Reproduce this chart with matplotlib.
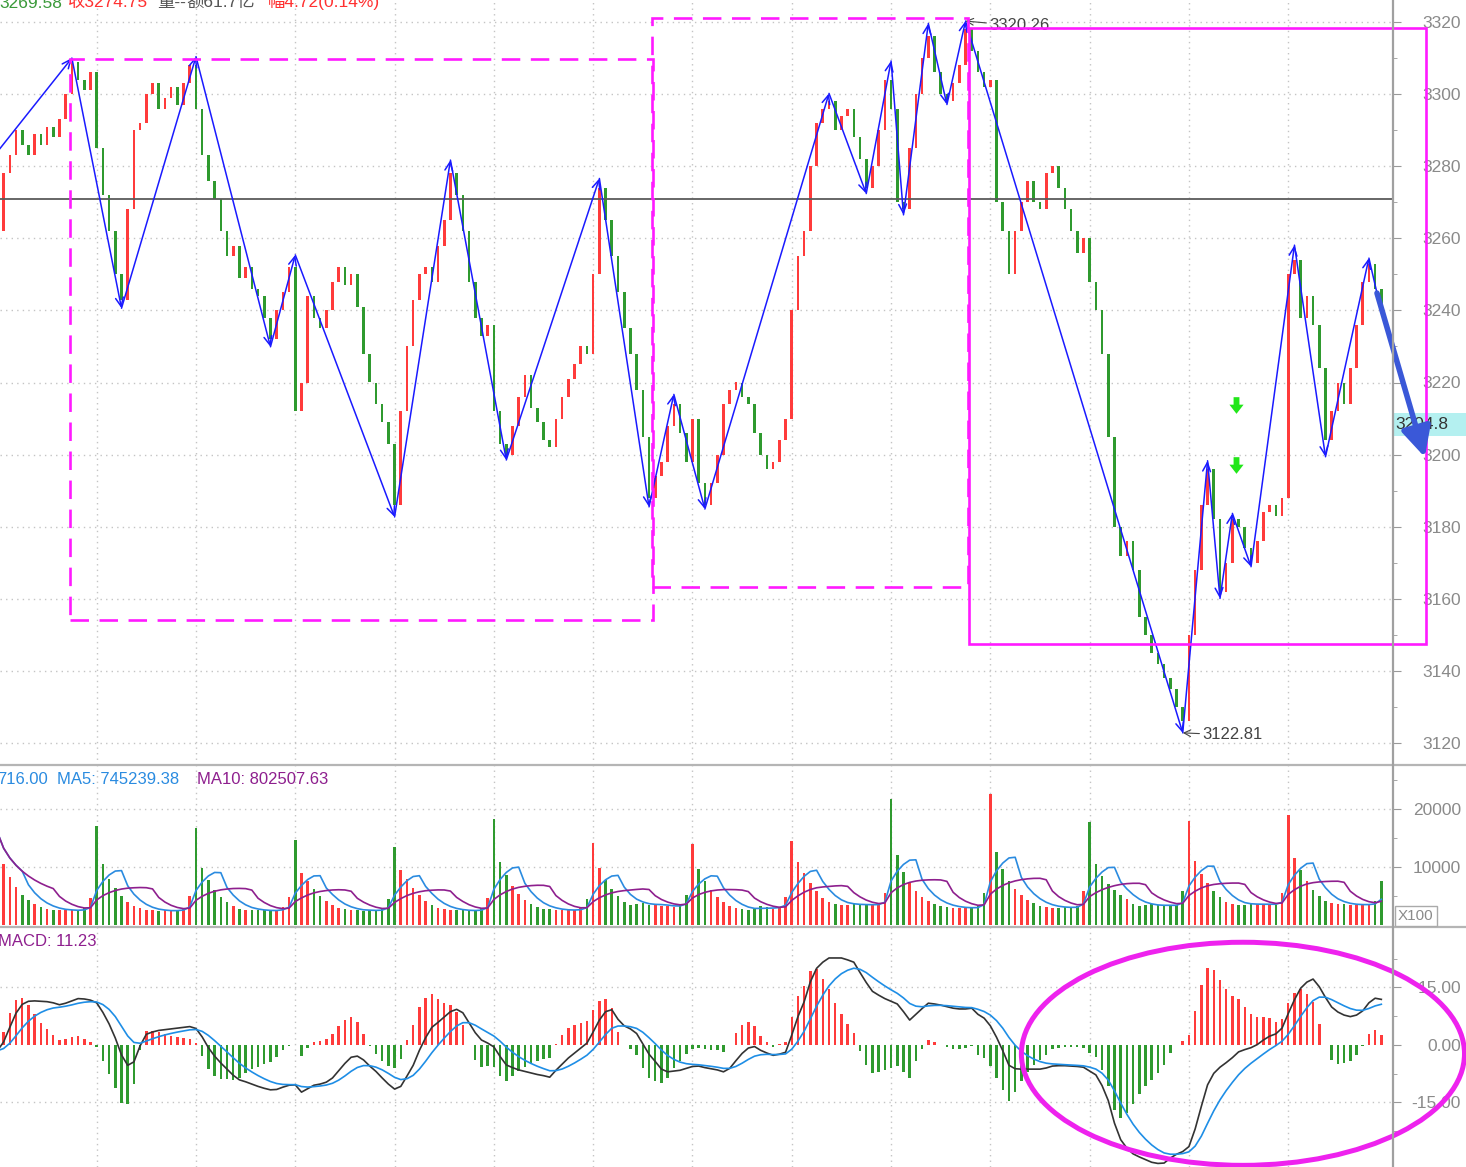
import numpy as np
import pandas as pd
import matplotlib
matplotlib.use('Agg')
import matplotlib.pyplot as plt
from matplotlib.patches import Rectangle, Ellipse
from matplotlib.path import Path
from matplotlib.lines import Line2D
import matplotlib.transforms as mtransforms

# ---------------- dados (16 barras por dia, 14 dias) ----------------
open_first = 3250
close_d0 = [3262, 3278, 3283, 3290, 3286, 3283, 3289, 3286, 3291, 3288, 3293, 3300, 3309, 3304, 3301, 3306]
close_d1 = [3285, 3272, 3262, 3250, 3243, 3268, 3290, 3292, 3300, 3303, 3296, 3299, 3302, 3297, 3303, 3308]
close_d2 = [3296, 3283, 3276, 3271, 3262, 3255, 3258, 3249, 3252, 3246, 3244, 3238, 3232, 3240, 3245, 3252]
close_d3 = [3212, 3220, 3244, 3238, 3235, 3240, 3248, 3252, 3247, 3250, 3241, 3228, 3220, 3214, 3209, 3203]
close_d4 = [3186, 3212, 3230, 3243, 3250, 3252, 3248, 3258, 3265, 3278, 3272, 3262, 3248, 3238, 3233, 3236]
close_d5 = [3212, 3203, 3200, 3208, 3216, 3222, 3213, 3209, 3204, 3202, 3210, 3216, 3221, 3225, 3230, 3228]
close_d6 = [3250, 3274, 3265, 3255, 3245, 3235, 3228, 3218, 3205, 3188, 3194, 3198, 3208, 3214, 3206, 3198]
close_d7 = [3210, 3192, 3186, 3192, 3200, 3214, 3218, 3220, 3216, 3214, 3206, 3200, 3196, 3198, 3204, 3210]
close_d8 = [3240, 3255, 3262, 3280, 3292, 3296, 3298, 3290, 3294, 3296, 3288, 3282, 3274, 3280, 3290, 3304]
close_d9 = [3296, 3270, 3268, 3285, 3300, 3310, 3316, 3306, 3300, 3298, 3303, 3308, 3318, 3312, 3306, 3302]
close_d10 = [3304, 3270, 3262, 3250, 3262, 3270, 3276, 3270, 3268, 3278, 3280, 3274, 3268, 3262, 3256, 3260]
close_d11 = [3248, 3240, 3228, 3205, 3180, 3172, 3176, 3168, 3155, 3150, 3145, 3142, 3138, 3135, 3130, 3126]
close_d12 = [3150, 3168, 3186, 3196, 3182, 3162, 3170, 3182, 3180, 3174, 3170, 3176, 3184, 3186, 3183, 3188]
close_d13 = [3250, 3254, 3238, 3244, 3236, 3224, 3204, 3212, 3220, 3214, 3224, 3236, 3248, 3253, 3246, 3240]

vol_d0 = [16000, 10500, 8200, 6500, 5200, 4300, 3600, 3100, 2800, 2600, 2500, 2500, 2600, 2500, 2900, 4600]
vol_d1 = [17100, 10500, 8000, 6300, 5000, 4000, 3300, 2900, 2600, 2500, 2400, 2500, 2400, 2600, 3000, 5000]
vol_d2 = [16700, 9800, 7800, 6000, 4800, 3900, 3300, 2800, 2600, 2500, 2600, 2500, 2400, 2500, 3100, 4800]
vol_d3 = [14700, 9000, 7600, 6200, 5000, 4100, 3400, 2900, 2700, 2600, 2500, 2400, 2600, 2500, 2800, 4500]
vol_d4 = [13400, 9500, 8000, 6400, 5200, 4200, 3500, 3000, 2700, 2600, 2500, 2500, 2400, 2500, 2900, 4700]
vol_d5 = [18300, 10800, 8600, 6800, 5400, 4300, 3600, 3100, 2800, 2700, 2600, 2500, 2500, 2600, 3000, 4400]
vol_d6 = [14100, 9800, 7700, 6200, 5000, 4000, 3500, 3600, 3800, 3500, 3400, 3300, 3200, 3100, 3400, 5200]
vol_d7 = [14000, 9600, 7600, 6000, 4900, 4000, 3300, 2900, 2700, 2600, 2800, 3300, 3100, 2800, 3000, 4800]
vol_d8 = [14400, 10800, 9000, 7200, 5800, 4700, 4000, 3700, 3500, 3500, 3600, 3500, 3500, 3400, 3600, 5600]
vol_d9 = [21800, 12000, 9200, 7300, 5900, 4900, 4100, 3600, 3300, 3100, 3000, 2900, 2900, 3000, 3200, 5600]
vol_d10 = [22500, 12500, 9600, 7600, 6200, 5100, 4300, 3800, 3300, 3100, 3000, 3000, 3100, 3000, 3200, 5800]
vol_d11 = [17700, 10500, 8500, 7000, 6000, 5200, 4400, 3600, 3200, 3400, 3600, 3500, 3300, 3200, 3400, 5800]
vol_d12 = [17900, 11000, 8800, 7200, 5800, 4800, 4000, 3600, 3400, 3500, 3800, 3700, 3500, 3400, 3500, 5500]
vol_d13 = [18900, 11600, 9400, 7500, 6000, 5000, 4200, 3800, 3600, 3600, 3500, 3400, 3500, 3600, 4200, 7500]

dif_d0 = [-1.5, 0.8, 4.6, 8.3, 10.6, 11.4, 11.5, 11.4, 11.3, 11.0, 10.5, 10.9, 11.5, 12.1, 12.0, 11.7]
dif_d1 = [11.0, 8.5, 5.5, 1.8, -2.6, -5.3, -4.4, -0.2, 2.8, 3.4, 3.8, 4.0, 4.2, 4.4, 4.6, 4.8]
dif_d2 = [4.3, 2.1, -0.7, -2.9, -4.7, -6.3, -7.9, -9.1, -9.6, -10.2, -10.8, -11.3, -11.7, -11.6, -11.0, -10.5]
dif_d3 = [-10.4, -12.3, -11.4, -10.5, -10.2, -9.7, -8.6, -6.7, -4.8, -3.2, -2.9, -3.9, -5.5, -6.9, -8.6, -10.2]
dif_d4 = [-11.5, -10.8, -8.1, -5.3, -1.4, 1.9, 4.6, 5.9, 7.3, 8.7, 9.3, 8.4, 5.8, 3.2, 1.3, 0.5]
dif_d5 = [-0.5, -3.0, -5.2, -5.9, -6.5, -6.9, -7.3, -7.7, -8.0, -8.4, -6.6, -5.0, -3.4, -2.1, -0.8, 0.5]
dif_d6 = [3.4, 6.5, 8.7, 9.2, 6.7, 5.0, 4.2, 3.0, 0.3, -2.4, -4.3, -6.3, -7.0, -6.8, -6.6, -6.1]
dif_d7 = [-5.6, -5.5, -5.9, -6.2, -6.5, -7.0, -6.1, -4.1, -2.2, -0.8, -0.4, -1.4, -2.1, -2.7, -2.4, -1.9]
dif_d8 = [2.6, 7.4, 11.3, 16.5, 20.0, 21.6, 22.7, 22.7, 22.7, 22.2, 21.6, 18.9, 16.3, 14.0, 13.0, 12.1]
dif_d9 = [11.4, 10.7, 8.7, 6.5, 8.0, 9.5, 10.9, 10.7, 10.4, 10.0, 9.6, 9.4, 9.4, 9.6, 8.0, 7.0]
dif_d10 = [5.0, 2.0, -1.5, -5.3, -6.2, -6.3, -6.3, -6.3, -6.3, -6.0, -5.5, -5.4, -5.4, -5.5, -5.6, -5.8]
dif_d11 = [-6.8, -7.8, -10.6, -14.5, -20.4, -24.7, -26.9, -28.4, -29.2, -29.9, -30.6, -30.9, -30.8, -29.5, -28.5, -27.8]
dif_d12 = [-26.5, -21.9, -16.0, -10.4, -7.4, -5.8, -4.6, -3.3, -1.8, -1.2, -0.7, 0.1, 1.3, 2.3, 2.9, 4.4]
dif_d13 = [8.2, 11.8, 14.8, 16.4, 17.2, 15.2, 12.4, 9.9, 8.6, 7.8, 7.4, 7.8, 8.9, 11.0, 12.2, 11.9]

# zigzag (indice da barra, preco)
zz_idx = [0, 12, 20, 32, 44, 48, 64, 73, 82, 97, 105, 109, 114, 134, 140, 144, 146, 150, 153,
          156, 191, 195, 197, 199, 202, 209, 214, 221, 222.3]
zz_price = [3284, 3310, 3240.6, 3310.4, 3229.9, 3255.4, 3182.7, 3281.7, 3198.5, 3276.6, 3185.5,
            3216.7, 3184.9, 3300.2, 3272.4, 3309.2, 3266.5, 3319.6, 3297.1, 3320.26, 3122.81,
            3198.3, 3160.1, 3183.7, 3168.9, 3258.1, 3199.4, 3254.5, 3244.8]
fc_idx = [222.3, 230.0]
fc_price = [3244.8, 3199.3]

# caixas
box_left = [11.7, 105.5, 156.5]
box_right = [105.6, 156.4, 230.2]
box_top = [3309.7, 3321.1, 3318.3]
box_bottom = [3154.1, 3163.3, 3147.6]
box_dashed = [True, True, False]

hline_price = 3271.0
hi_idx, hi_price = 156, 3320.26
lo_idx, lo_price = 191, 3122.81
sig_idx = [199.6, 199.6]
sig_price = [3213.8, 3197.1]
last_label, last_label_price = '3204.8', 3208.3
ell_center = (200.7, -2.3)
ell_w, ell_h = 71.4, 58.2

price_ticks = [3120, 3140, 3160, 3180, 3200, 3220, 3240, 3260, 3280, 3300, 3320]
vol_ticks = [10000, 20000]
macd_ticks = [-15, 0, 15]
macd_ticklabels = ['-15.00', '0.00', '15.00']

# ---------------- calculos ----------------
closes = np.array(close_d0 + close_d1 + close_d2 + close_d3 + close_d4 + close_d5 + close_d6 +
                  close_d7 + close_d8 + close_d9 + close_d10 + close_d11 + close_d12 + close_d13, float)
vols = np.array(vol_d0 + vol_d1 + vol_d2 + vol_d3 + vol_d4 + vol_d5 + vol_d6 +
                vol_d7 + vol_d8 + vol_d9 + vol_d10 + vol_d11 + vol_d12 + vol_d13, float)
dif = pd.Series(dif_d0 + dif_d1 + dif_d2 + dif_d3 + dif_d4 + dif_d5 + dif_d6 +
                dif_d7 + dif_d8 + dif_d9 + dif_d10 + dif_d11 + dif_d12 + dif_d13)
opens = np.r_[open_first, closes[:-1]]
idx = np.arange(len(closes))
up = closes >= opens

RED = '#ff3b3b'
GREEN = '#2f9a2f'
cols = np.where(up, RED, GREEN)

ma5 = pd.Series(vols).rolling(5, min_periods=1).mean()
ma10 = pd.Series(vols).rolling(10, min_periods=1).mean()
dea = dif.ewm(span=7, adjust=False).mean()
hist = 2 * (dif - dea)

# ---------------- figura ----------------
W, H = 1466, 1167
AX_R = 1393
fig = plt.figure(figsize=(W / 100, H / 100), dpi=100)
fig.patch.set_facecolor('white')


def painel(top, bottom):
    a = fig.add_axes([0, 1 - bottom / H, AX_R / W, (bottom - top) / H])
    a.set_xlim(0.42, 224.88)
    for s in a.spines.values():
        s.set_visible(False)
    a.tick_params(axis='x', length=0, labelbottom=False)
    a.set_xticks(np.arange(16, 224, 16))
    a.grid(axis='x', color='#c4c4c4', ls=(0, (1, 3)), lw=1)
    a.yaxis.tick_right()
    a.tick_params(axis='y', which='major', length=6, color='#999999', labelcolor='#8a8a8a',
                  labelsize=12.5, pad=43)
    a.tick_params(axis='y', which='minor', length=3, color='#999999')
    a.set_axisbelow(True)
    return a


ax = painel(0, 765)
axv = painel(765, 927)
axm = painel(927, 1167)

# ---- preco ----
ax.set_ylim(3113.9, 3326.1)
ax.set_yticks(price_ticks)
ax.set_yticks(np.array(price_ticks[:-1]) + 10, minor=True)
ax.grid(axis='y', which='major', color='#c4c4c4', ls=(0, (1, 3)), lw=1)
body = np.where(np.abs(closes - opens) < 0.6, 0.6, closes - opens)
ax.bar(idx, body, bottom=opens, width=0.42, color=cols, zorder=2)
ax.axhline(hline_price, color='#5a5a5a', lw=1.3, zorder=3)

n = len(zz_idx)
for k in range(n - 1):
    style = '->,head_length=0.45,head_width=0.2' if k < n - 2 else '-'
    ax.annotate('', xy=(zz_idx[k + 1], zz_price[k + 1]), xytext=(zz_idx[k], zz_price[k]),
                arrowprops=dict(arrowstyle=style, color='#1a1aff', lw=1.1,
                                shrinkA=0, shrinkB=0, mutation_scale=14),
                zorder=4)

for l, r, t, b, d in zip(box_left, box_right, box_top, box_bottom, box_dashed):
    ax.add_patch(Rectangle((l, b), r - l, t - b, fill=False, ec='#ff1aff', lw=1.9,
                           ls=(0, (7, 4)) if d else '-', zorder=6, clip_on=False))

arrow_down = Path([(-0.35, 1), (0.35, 1), (0.35, 0.1), (0.85, 0.1), (0, -1), (-0.85, 0.1),
                   (-0.35, 0.1), (-0.35, 1)], closed=True)
ax.plot(sig_idx, sig_price, ls='none', marker=arrow_down, ms=12, color='#22e61a', mec='none',
        zorder=5)

ax.annotate(f'{hi_price:.2f}', xy=(hi_idx, hi_price), xytext=(17, -3.5), textcoords='offset points',
            va='center', ha='left', fontsize=12, color='#444444', family='Liberation Sans',
            arrowprops=dict(arrowstyle='->', color='#444444', lw=0.8, shrinkA=0, shrinkB=0),
            zorder=5)
ax.annotate(f'{lo_price:.2f}', xy=(lo_idx, lo_price), xytext=(14, -1.5), textcoords='offset points',
            va='center', ha='left', fontsize=12, color='#444444', family='Liberation Sans',
            arrowprops=dict(arrowstyle='->', color='#444444', lw=0.8, shrinkA=0, shrinkB=0),
            zorder=5)

blend = mtransforms.blended_transform_factory(ax.transAxes, ax.transData)
ax.add_patch(Rectangle((1.0, last_label_price - 3.15), W / AX_R - 1.0, 6.3, transform=blend,
                       fc='#b4f0f0', ec='none', clip_on=False, zorder=5))
ax.text(1.0 + 2 / AX_R, last_label_price, last_label, transform=blend, va='center', ha='left',
        fontsize=12.5, color='#333333', family='Liberation Sans', clip_on=False, zorder=5.5)

ax.annotate('', xy=(fc_idx[1], fc_price[1]), xytext=(fc_idx[0], fc_price[0]),
            arrowprops=dict(arrowstyle='-|>,head_length=0.9,head_width=0.45', mutation_scale=20,
                            lw=4, color='#3a58d8', shrinkA=0, shrinkB=0),
            annotation_clip=False, zorder=8)

# ---- volume ----
axv.set_ylim(-345, 27586)
axv.set_yticks(vol_ticks)
axv.set_yticks([5000, 15000, 25000], minor=True)
axv.grid(axis='y', which='major', color='#c4c4c4', ls=(0, (1, 3)), lw=1)
axv.bar(idx, vols, width=0.42, color=cols, zorder=2)
axv.plot(idx, ma5, color='#2a8be0', lw=1.2, zorder=3)
axv.plot(idx, ma10, color='#8e1f8e', lw=1.2, zorder=3)

# ---- MACD ----
axm.set_ylim(-31.83, 30.78)
axm.set_yticks(macd_ticks)
axm.set_yticklabels(macd_ticklabels)
axm.set_yticks([-22.5, -7.5, 7.5, 22.5], minor=True)
for v in (-15, 15):
    axm.axhline(v, color='#c4c4c4', ls=(0, (1, 3)), lw=1, zorder=0)
axm.bar(idx, hist, width=0.4, color=np.where(hist >= 0, RED, GREEN), zorder=2)
axm.plot(idx, dif, color='#333333', lw=1.2, zorder=3)
axm.plot(idx, dea, color='#1e8ee6', lw=1.2, zorder=3)
axm.add_patch(Ellipse(ell_center, ell_w, ell_h, fill=False, ec='#ee22ee', lw=3.6,
                      clip_on=False, zorder=6))

for a in (ax, axv, axm):
    for t in a.yaxis.get_major_ticks():
        t.label2.set_horizontalalignment('right')
        t.label2.set_family('Liberation Sans')

# ---- linhas de separacao ----
for yy in (765, 927):
    fig.add_artist(Line2D([0, 1], [1 - yy / H] * 2, color='#b5b5b5', lw=1.6))
fig.add_artist(Line2D([AX_R / W] * 2, [0, 1], color='#a0a0a0', lw=1.6))

# ---- textos de cabecalho ----
fam = ['Liberation Sans', 'Noto Sans CJK SC']
head = [(-1, '3269.58', '#3a9a3a'), (68, '收3274.75', '#ff3030'), (157, '量--', '#555555'),
        (186, '额61.7亿', '#555555'), (268, '幅4.72(0.14%)', '#ff3030')]
for x, s, c in head:
    fig.text(x / W, 1 - 7.5 / H, s, fontsize=12.5, color=c, family=fam, va='baseline')

fig.text(-3 / W, 1 - 784 / H, '716.00', fontsize=12, color='#2a8be0', family=fam, va='baseline')
fig.text(57 / W, 1 - 784 / H, 'MA5: 745239.38', fontsize=12, color='#2a8be0', family=fam,
         va='baseline')
fig.text(197 / W, 1 - 784 / H, 'MA10: 802507.63', fontsize=12, color='#8e1f8e', family=fam,
         va='baseline')
fig.text(-2 / W, 1 - 946 / H, 'MACD: 11.23', fontsize=12, color='#8e1f8e', family=fam,
         va='baseline')

fig.text(1398 / W, 1 - 916 / H, 'X100', fontsize=11, color='#8a8a8a', family=fam, va='center',
         bbox=dict(boxstyle='square,pad=0.2', fc='white', ec='#aaaaaa', lw=1))

fig.savefig('out.png', dpi=100)
